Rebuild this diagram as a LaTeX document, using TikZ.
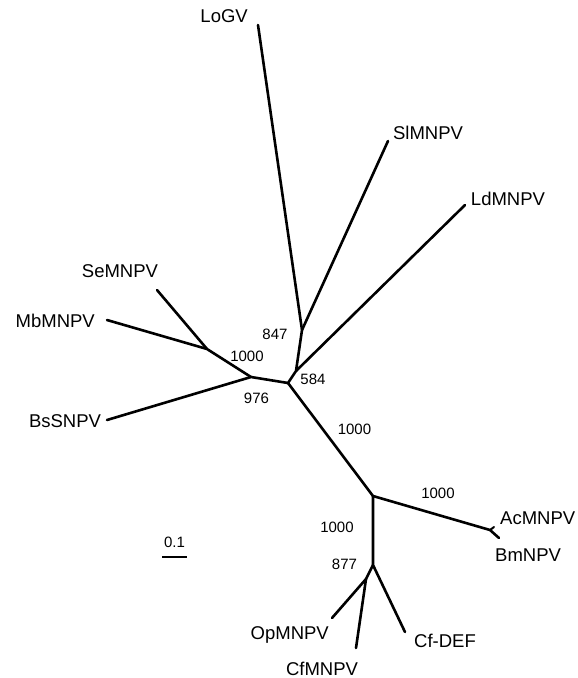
\documentclass[tikz,border=0pt]{standalone}
\usepackage{fontspec}
\setmainfont{Liberation Sans}
\begin{document}
\begin{tikzpicture}[x=1pt,y=-1pt,
  br/.style={line width=2.6pt,line cap=round,line join=round},
  taxon/.style={font=\fontsize{18.5}{18.5}\selectfont,inner sep=0pt},
  boot/.style={font=\fontsize{15}{15}\selectfont,inner sep=0pt}]
\useasboundingbox (0,0) rectangle (578,678);
% internal nodes
\coordinate (A) at (288,383);
\coordinate (B) at (296,371);
\coordinate (N847) at (302,330);
\coordinate (N976) at (251,377);
\coordinate (N1000a) at (207,349);
\coordinate (Nlow) at (373,496);
\coordinate (Nac) at (490,530);
\coordinate (N877) at (373,565);
\coordinate (Nop) at (366,579);
% tips
\coordinate (tLoGV) at (258,25);
\coordinate (tSl) at (388,141);
\coordinate (tLd) at (465,205);
\coordinate (tSe) at (157,290);
\coordinate (tMb) at (107,320);
\coordinate (tBs) at (107,420);
\coordinate (tAc) at (494,527);
\coordinate (tBm) at (499,538);
\coordinate (tCfD) at (405,632);
\coordinate (tOp) at (332,618);
\coordinate (tCf) at (356,648);
% branches
\draw[br] (tLoGV) -- (N847) -- (B) -- (A) -- (N976) -- (tBs);
\draw[br] (tSl) -- (N847);
\draw[br] (tLd) -- (B);
\draw[br] (N976) -- (N1000a) -- (tMb);
\draw[br] (N1000a) -- (tSe);
\draw[br] (A) -- (Nlow) -- (Nac) -- (tBm);
\draw[br,line width=2pt] (Nac) -- (tAc);
\draw[br] (Nlow) -- (N877) -- (tCfD);
\draw[br] (N877) -- (Nop) -- (tOp);
\draw[br] (Nop) -- (tCf);
% taxon labels
\node[taxon,anchor=east] (lLoGV) at (248,16.5) {LoGV};
\node[taxon] (lSl) at (428,133) {SlMNPV};
\node[taxon] (lLd) at (508,199) {LdMNPV};
\node[taxon] (lSe) at (120,271) {SeMNPV};
\node[taxon,anchor=east] (lMb) at (95,321) {MbMNPV};
\node[taxon] (lBs) at (65,421) {BsSNPV};
\node[taxon,anchor=west] (lAc) at (500,518.5) {AcMNPV};
\node[taxon,anchor=west] (lBm) at (495,555) {BmNPV};
\node[taxon,anchor=east] (lOp) at (329,634.5) {OpMNPV};
\node[taxon] (lCf) at (322,668.5) {CfMNPV};
\node[taxon,anchor=west] (lCfD) at (414,640.5) {Cf-DEF};
% bootstrap values
\node[boot] (b847) at (275,334) {847};
\node[boot] (b1000a) at (247,356) {1000};
\node[boot] (b976) at (256.5,398.5) {976};
\node[boot] (b584) at (313,379.5) {584};
\node[boot] (b1000b) at (354.5,429) {1000};
\node[boot] (b1000c) at (438,493) {1000};
\node[boot] (b1000d) at (337,527) {1000};
\node[boot] (b877) at (344.5,564) {877};
% scale bar
\coordinate (s1) at (162,557);
\coordinate (s2) at (187,557);
\draw[line width=2.6pt] (s1) -- (s2);
\node[boot] (lscale) at (174.5,542) {0.1};
\end{tikzpicture}
\end{document}
